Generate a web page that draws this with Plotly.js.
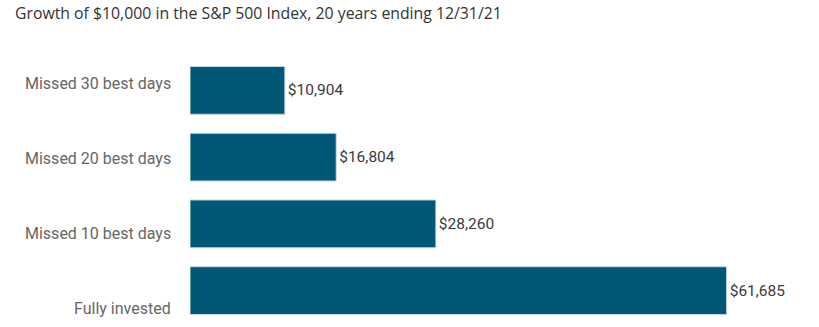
<!DOCTYPE html>
<html>
<head>
<meta charset="utf-8">
<script src="https://cdn.plot.ly/plotly-3.0.1.min.js"></script>
<style>html,body{margin:0;padding:0;background:#fff}#chart{width:819px;height:327px}</style>
</head>
<body>
<div id="chart"></div>
<script>
const categories = ["Missed 30 best days", "Missed 20 best days", "Missed 10 best days", "Fully invested"];
const values = [10904, 16804, 28260, 61685];
const valueLabels = ["$10,904", "$16,804", "$28,260", "$61,685"];
const titleText = "Growth of $10,000 in the S&P 500 Index, 20 years ending 12/31/21";

const labelY = [0.901, 0.621, 0.338, 0.058];

const trace = {
  type: "bar",
  orientation: "h",
  x: values,
  y: categories,
  text: valueLabels,
  textposition: "outside",
  cliponaxis: false,
  textfont: {family: "Roboto, sans-serif", size: 15.5, color: "#3a3a3a"},
  marker: {color: "#005876", line: {color: "#c9d9e2", width: 1}},
  hoverinfo: "none"
};

const annotations = categories.map((c, i) => ({
  text: c, xref: "paper", yref: "paper", x: 0, xshift: -17, y: labelY[i],
  xanchor: "right", yanchor: "middle", showarrow: false,
  font: {family: "Roboto, sans-serif", size: 16, color: "#666"}
}));

const layout = {
  width: 819, height: 327,
  margin: {l: 190, r: 20, t: 57, b: 3},
  paper_bgcolor: "#fff", plot_bgcolor: "#fff",
  title: {text: titleText, x: 15/819, xref: "container", xanchor: "left", y: 1, yref: "container", yanchor: "top",
          pad: {t: 8}, font: {family: "'Open Sans', sans-serif", size: 15.8, color: "#333"}},
  bargap: 0.284,
  xaxis: {range: [0, 70000], visible: false, fixedrange: true},
  yaxis: {autorange: false, range: [3.5, -0.5], showticklabels: false, showgrid: false, zeroline: false, showline: false, ticks: ""},
  annotations: annotations,
  showlegend: false
};

Plotly.newPlot("chart", [trace], layout, {displayModeBar: false, staticPlot: true});
</script>
</body>
</html>
